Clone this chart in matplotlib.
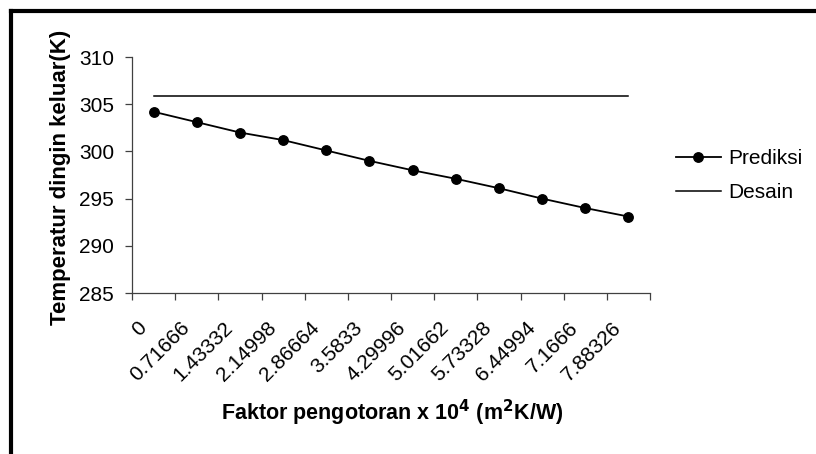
import matplotlib.pyplot as plt
import matplotlib.lines as mlines
import matplotlib.transforms as mtransforms
import numpy as np

plt.rcParams['font.family'] = ['Liberation Sans', 'DejaVu Sans']

# data
faktor = ['0', '0.71666', '1.43332', '2.14998', '2.86664', '3.5833',
          '4.29996', '5.01662', '5.73328', '6.44994', '7.1666', '7.88326']
prediksi = [304.2, 303.1, 302.0, 301.2, 300.1, 299.0,
            298.0, 297.1, 296.1, 295.0, 294.0, 293.1]
desain = [305.9] * 12

fig = plt.figure(figsize=(8.16, 4.54), dpi=100)
ax = fig.add_axes([132 / 816, 1 - 293 / 454, 518 / 816, 236 / 454])

x = np.arange(len(faktor))
ax.plot(x, prediksi, color='black', lw=1.3, marker='o', ms=6.8, label='Prediksi')
ax.plot(x, desain, color='black', lw=1.1, label='Desain')

ax.set_xlim(-0.5, len(faktor) - 0.5)
ax.set_ylim(285, 310)
ax.set_yticks(np.arange(285, 311, 5))

# labels at category centres, tick marks at category boundaries
ax.set_xticks(x)
ax.set_xticklabels(faktor, rotation=45, ha='right', va='center',
                   rotation_mode='anchor', fontsize=15)
ax.set_xticks(np.arange(-0.5, len(faktor)), minor=True)
ax.tick_params(axis='x', which='major', length=0, pad=23)
ax.tick_params(axis='x', which='minor', length=5, width=0.9, color='#404040',
               direction='out')
ax.tick_params(axis='y', length=5, width=0.9, color='#404040', labelsize=15, pad=8)
shift = mtransforms.ScaledTranslation(-10 / 100, 0, fig.dpi_scale_trans)
for lab in ax.get_xticklabels():
    lab.set_transform(lab.get_transform() + shift)

for s in ['top', 'right']:
    ax.spines[s].set_visible(False)
for s in ['left', 'bottom']:
    ax.spines[s].set_color('#404040')
    ax.spines[s].set_linewidth(0.9)

ax.set_ylabel('Temperatur dingin keluar(K)', fontsize=16, fontweight='bold')
ax.yaxis.set_label_coords(-0.118, 0.489)
fig.text(392 / 816, 1 - 413 / 454, r'Faktor pengotoran x 10$^{\mathbf{4}}$ (m$^{\mathbf{2}}$K/W)',
         ha='center', va='center', fontsize=15.5, fontweight='bold')

leg = fig.legend(*ax.get_legend_handles_labels(), loc='center left',
                 bbox_to_anchor=(676 / 816, 1 - 176 / 454), frameon=False,
                 fontsize=15, handlelength=2.15, handletextpad=0.35,
                 labelspacing=0.72, borderpad=0, borderaxespad=0)

# thick frame on top and left edge of the picture
fig.add_artist(mlines.Line2D([11 / 816, 1], [1 - 11 / 454, 1 - 11 / 454],
                             transform=fig.transFigure, color='black', lw=3))
fig.add_artist(mlines.Line2D([11 / 816, 11 / 816], [0, 1 - 11 / 454],
                             transform=fig.transFigure, color='black', lw=3))

fig.savefig('out.png', dpi=100)
